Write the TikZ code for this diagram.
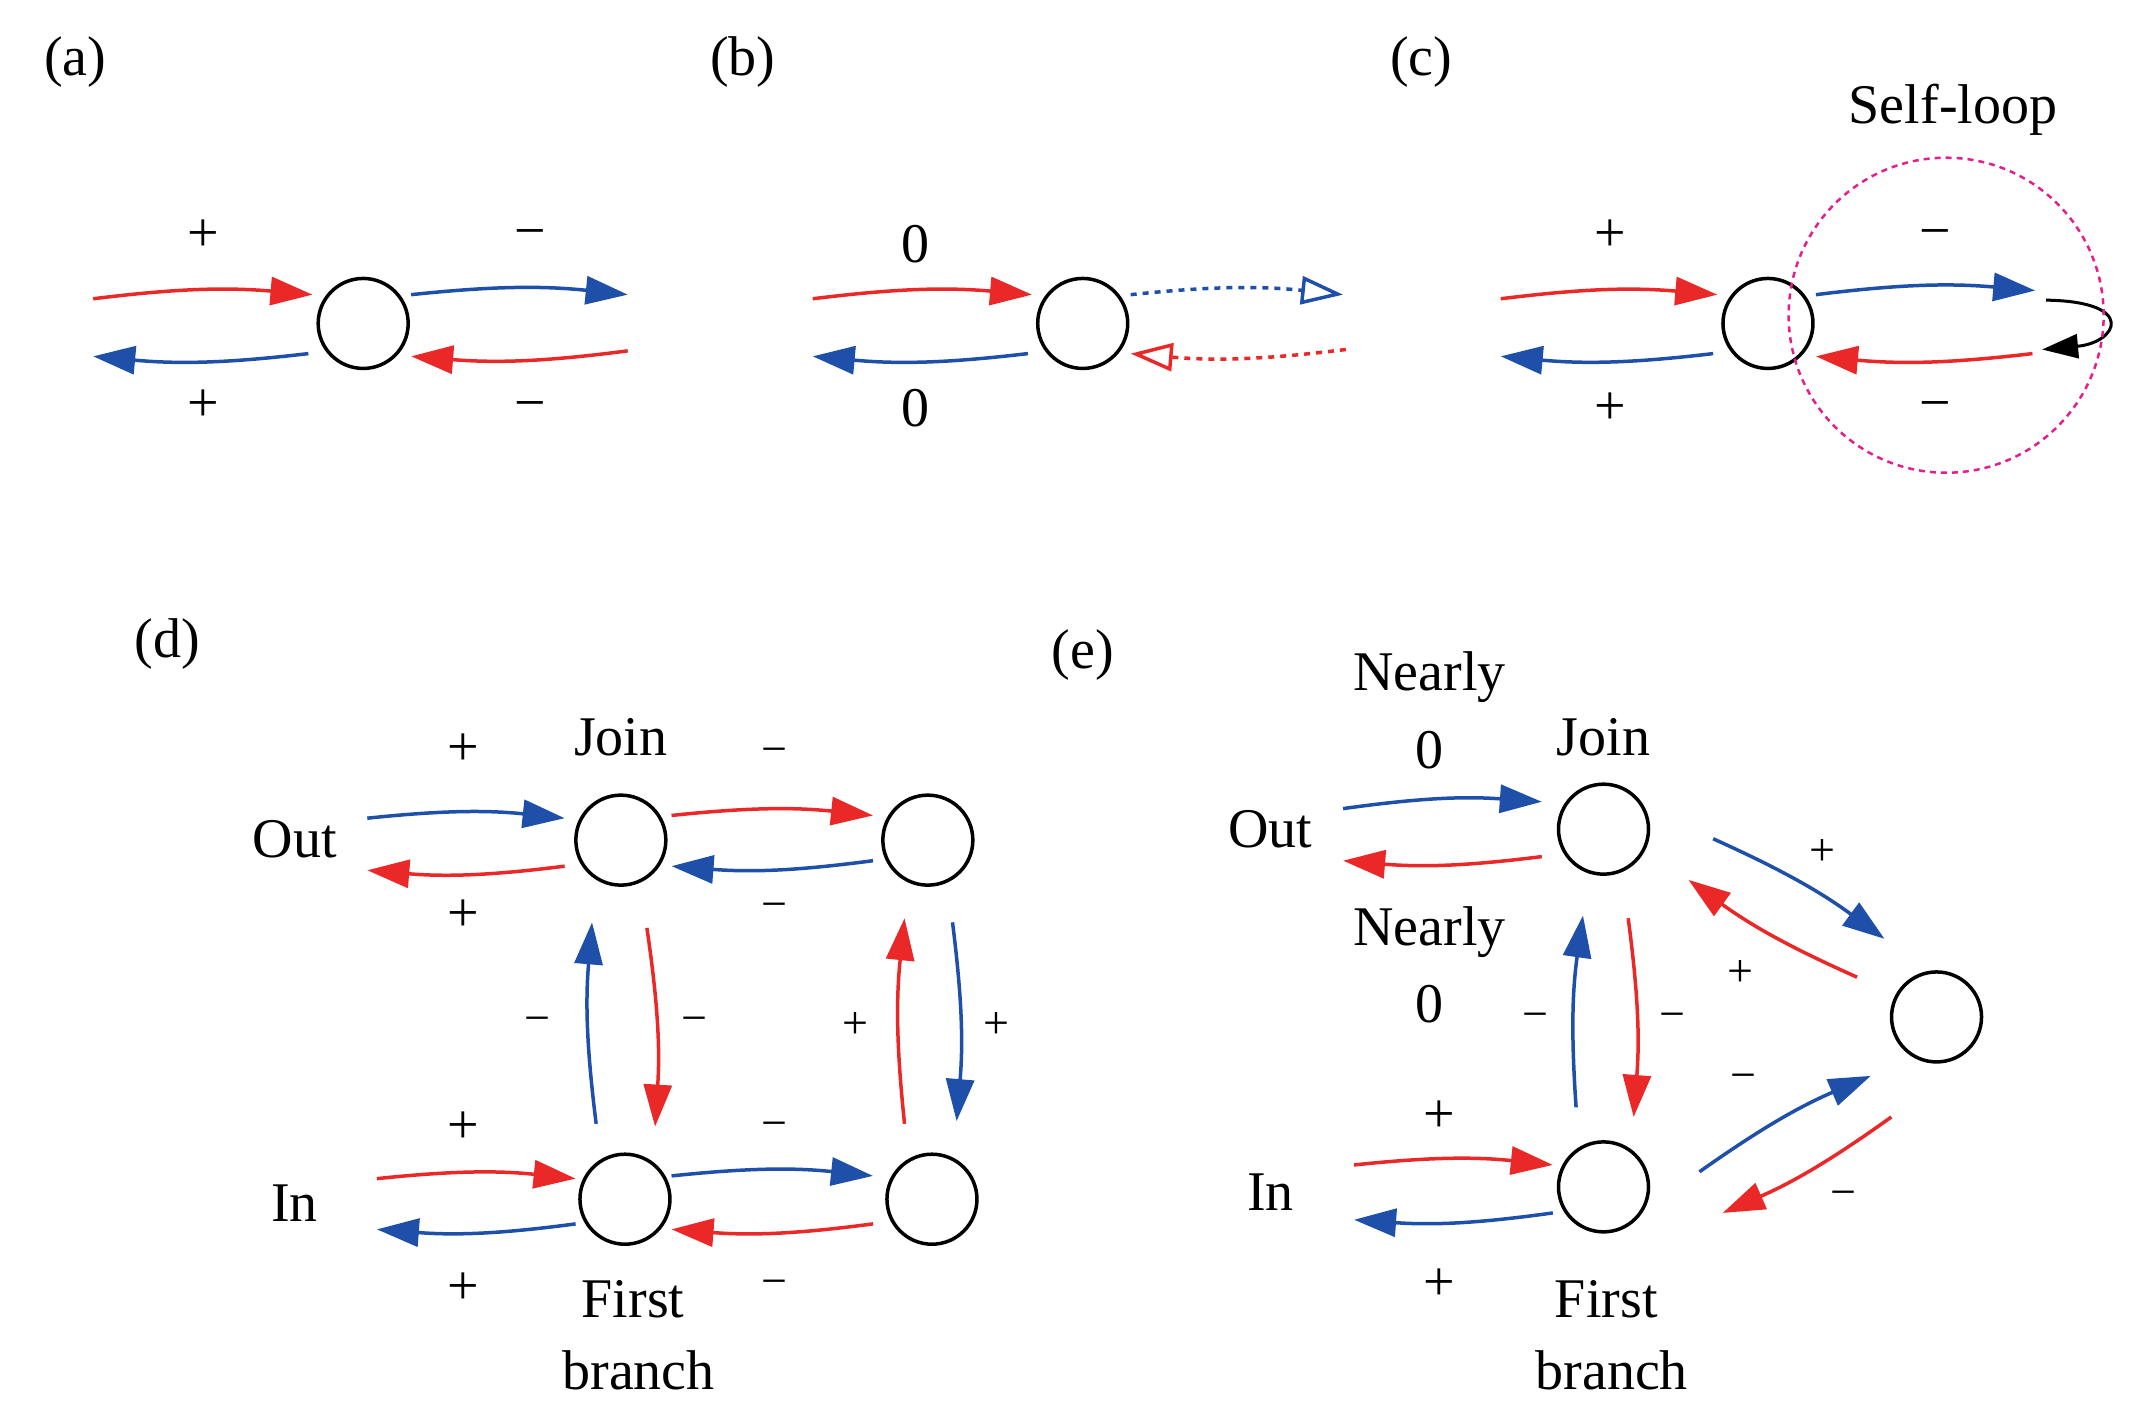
\documentclass[tikz,border=0pt]{standalone}
\usepackage{fontspec}
\setmainfont{Liberation Serif}
\usetikzlibrary{arrows.meta}
\definecolor{myred}{RGB}{235,40,40}
\definecolor{myblue}{RGB}{30,80,170}
\definecolor{mymag}{RGB}{230,30,140}
\begin{document}
\begin{tikzpicture}[x=1.3705pt,y=-1.3705pt,
  nd/.style={circle,draw,line width=3.5pt,minimum size=90pt,inner sep=0pt},
  tx/.style={font=\fontsize{56}{60}\selectfont,inner sep=0pt},
  sm/.style={font=\fontsize{46}{50}\selectfont,inner sep=0pt},
  ar/.style={line width=3.5pt,-{Triangle[length=42pt,width=28pt]},bend left=6},
  ra/.style={ar,myred}, ba/.style={ar,myblue},
  oa/.style={line width=3.5pt,dashed,dash pattern=on 6pt off 6pt,-{Triangle[open,length=42pt,width=28pt]},bend left=6}]
\useasboundingbox (0,0) rectangle (1560,1032);
% (a)
\node[tx] at (55,45) {(a)};
\node[nd] (A) at (265,236) {};
\coordinate (a1) at (68,218); \coordinate (a2) at (228,215);
\coordinate (a3) at (300,215); \coordinate (a4) at (458,215);
\coordinate (a5) at (458,256); \coordinate (a6) at (300,260);
\coordinate (a7) at (225,258); \coordinate (a8) at (68,260);
\draw[ra] (a1) to (a2); \draw[ba] (a3) to (a4);
\draw[ra] (a5) to (a6); \draw[ba] (a7) to (a8);
\node[tx] at (148,172) {+}; \node[tx] at (148,296) {+};
\node[tx] at (387,175) {−}; \node[tx] at (387,300) {−};
% (b)
\node[tx] at (542,45) {(b)};
\node[nd] (B) at (790,236) {};
\coordinate (b1) at (593,218); \coordinate (b2) at (753,215);
\coordinate (b3) at (825,215); \coordinate (b4) at (980,215);
\coordinate (b5) at (982,255); \coordinate (b6) at (825,258);
\coordinate (b7) at (750,258); \coordinate (b8) at (593,260);
\draw[ra] (b1) to (b2); \draw[ba] (b7) to (b8);
\draw[oa,myblue] (b3) to (b4); \draw[oa,myred] (b5) to (b6);
\node[tx] at (668,178) {0}; \node[tx] at (668,298) {0};
% (c)
\node[tx] at (1037,45) {(c)};
\node[nd] (C) at (1290,236) {};
\coordinate (c1) at (1095,218); \coordinate (c2) at (1253,215);
\coordinate (c3) at (1325,215); \coordinate (c4) at (1485,212);
\coordinate (c5) at (1483,258); \coordinate (c6) at (1325,260);
\coordinate (c7) at (1250,258); \coordinate (c8) at (1095,260);
\draw[ra] (c1) to (c2); \draw[ba] (c3) to (c4);
\draw[ra] (c5) to (c6); \draw[ba] (c7) to (c8);
\coordinate (s1) at (1493,219); \coordinate (s2) at (1490,255);
\draw[line width=3pt,-{Triangle[length=36pt,width=24pt]}] (s1) .. controls (1560,220) and (1545,250) .. (s2);
\node[circle,draw=mymag,line width=2.5pt,dashed,dash pattern=on 6pt off 5pt,minimum size=315pt,inner sep=0pt] (SL) at (1420,230) {};
\node[tx] at (1425,80) {Self-loop};
\node[tx] at (1175,172) {+}; \node[tx] at (1175,298) {+};
\node[tx] at (1412,175) {−}; \node[tx] at (1412,300) {−};
% (d)
\node[tx] at (122,470) {(d)};
\node[nd] (J) at (453,613) {};
\node[nd] (R) at (677,613) {};
\node[nd] (F) at (456,875) {};
\node[nd] (S) at (680,875) {};
\node[tx] at (453,538) {Join};
\node[tx] at (215,612) {Out};
\node[tx] at (215,878) {In};
\node[tx] at (462,948) {First};
\node[tx] at (466,1000) {branch};
\draw[ba] (268,597) to (412,597); \draw[ra] (412,632) to (268,635);
\node[tx] at (338,547) {+}; \node[tx] at (338,668) {+};
\draw[ra] (490,595) to (637,595); \draw[ba] (637,628) to (490,632);
\node[sm] at (565,552) {−}; \node[sm] at (565,665) {−};
\draw[ba] (435,820) to (432,673); \draw[ra] (472,677) to (478,822);
\node[sm] at (392,748) {−}; \node[sm] at (507,748) {−};
\draw[ra] (660,820) to (660,670); \draw[ba] (695,673) to (698,818);
\node[sm] at (624,748) {+}; \node[sm] at (727,748) {+};
\draw[ba] (490,858) to (637,858); \draw[ra] (637,893) to (490,897);
\node[sm] at (565,825) {−}; \node[sm] at (565,940) {−};
\draw[ra] (275,860) to (420,860); \draw[ba] (420,893) to (275,897);
\node[tx] at (338,823) {+}; \node[tx] at (338,940) {+};
% (e)
\node[tx] at (790,478) {(e)};
\node[nd] (EJ) at (1170,605) {};
\node[nd] (EF) at (1170,866) {};
\node[nd] (ER) at (1413,742) {};
\node[tx] at (1170,538) {Join};
\node[tx] at (927,605) {Out};
\node[tx] at (927,870) {In};
\node[tx] at (1043,494) {Nearly}; \node[tx] at (1043,547) {0};
\node[tx] at (1043,680) {Nearly}; \node[tx] at (1043,733) {0};
\node[tx] at (1172,948) {First}; \node[tx] at (1176,1000) {branch};
\draw[ba] (980,590) to (1125,585); \draw[ra] (1125,625) to (980,628);
\draw[ra] (988,850) to (1133,850); \draw[ba] (1133,885) to (988,890);
\node[tx] at (1050,815) {+}; \node[tx] at (1050,937) {+};
\draw[ba] (1150,808) to (1155,668); \draw[ra] (1188,670) to (1192,815);
\node[sm] at (1120,745) {−}; \node[sm] at (1220,745) {−};
\draw[ba] (1250,612) to (1375,685); \draw[ra] (1355,713) to (1232,642);
\node[sm] at (1330,622) {+}; \node[sm] at (1270,710) {+};
\draw[ba] (1240,855) to (1365,785); \draw[ra] (1380,815) to (1257,885);
\node[sm] at (1272,790) {−}; \node[sm] at (1345,875) {−};
\end{tikzpicture}
\end{document}
